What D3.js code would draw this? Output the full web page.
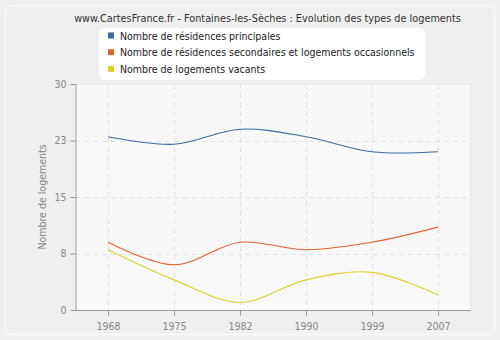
<!DOCTYPE html>
<html><head><meta charset="utf-8">
<script src="https://cdn.jsdelivr.net/npm/d3@7"></script>
<style>body{margin:0;background:#efefef}svg{display:block}</style>
</head><body>
<script>
const years = ["1968","1975","1982","1990","1999","2007"];
const principales = [23, 22, 24, 23, 21, 21];
const secondaires = [9, 6, 9, 8, 9, 11];
const vacants = [8, 4, 1, 4, 5, 2];
const yTickValues = [0, 7.5, 15, 22.5, 30];
const yTickLabels = ["0", "8", "15", "23", "30"];
const seriesNames = ["Nombre de résidences principales","Nombre de résidences secondaires et logements occasionnels","Nombre de logements vacants"];
const seriesColors = ["#3d6aa0","#e0622e","#e0d02a"];
const title = "www.CartesFrance.fr - Fontaines-les-Sèches : Evolution des types de logements";
const yTitle = "Nombre de logements";

const W=500,H=340;
const font="'DejaVu Sans Condensed', 'DejaVu Sans', Verdana, sans-serif";
const svg=d3.select("body").append("svg").attr("width",W).attr("height",H);
const defs=svg.append("defs");
const pat=defs.append("pattern").attr("id","hatch").attr("patternUnits","userSpaceOnUse").attr("width",4).attr("height",4);
pat.append("rect").attr("width",4).attr("height",4).attr("fill","#fbfbfb");
pat.append("path").attr("d","M-1,1 l2,-2 M0,4 l4,-4 M3,5 l2,-2").attr("stroke","#ececec").attr("stroke-width",0.8);

svg.append("rect").attr("width",W).attr("height",H).attr("fill","#efefef");
svg.append("rect").attr("x",5.5).attr("y",5.5).attr("width",W-11).attr("height",H-11).attr("rx",6)
  .attr("fill","#efefef").attr("stroke","#fafafa").attr("stroke-width",1.5);

const L=75,R=471,T=84,B=310;
const x=d3.scalePoint().domain(years).range([L,R]).padding(0.5);
const y=d3.scaleLinear().domain([0,30]).range([B,T]);

svg.append("rect").attr("x",L).attr("y",T).attr("width",R-L).attr("height",B-T).attr("fill","url(#hatch)");
[[0,7.5],[15,22.5]].forEach(b=>{
  svg.append("rect").attr("x",L).attr("y",y(b[1])).attr("width",R-L).attr("height",y(b[0])-y(b[1]))
    .attr("fill","#fafafa").attr("opacity",0.6);
});
svg.append("line").attr("x1",L).attr("x2",R).attr("y1",T+0.5).attr("y2",T+0.5).attr("stroke","#e8e8e8");
svg.append("line").attr("x1",R-0.5).attr("x2",R-0.5).attr("y1",T).attr("y2",B).attr("stroke","#e8e8e8");

const g=svg.append("g");
yTickValues.slice(1,4).forEach(v=>{
  g.append("line").attr("x1",L).attr("x2",R).attr("y1",Math.round(y(v))+0.5).attr("y2",Math.round(y(v))+0.5)
   .attr("stroke","#e2e2e2").attr("stroke-dasharray","5,4");
});
years.forEach(v=>{
  g.append("line").attr("x1",Math.round(x(v))+0.5).attr("x2",Math.round(x(v))+0.5).attr("y1",T).attr("y2",B)
   .attr("stroke","#e2e2e2").attr("stroke-dasharray","5,4");
});

const ax=svg.append("g").attr("transform",`translate(0,${B+0.5})`)
  .call(d3.axisBottom(x).tickSize(5).tickSizeOuter(0));
const ay=svg.append("g").attr("transform",`translate(${L+0.5},0)`)
  .call(d3.axisLeft(y).tickValues(yTickValues).tickFormat((d,i)=>yTickLabels[i]).tickSize(5).tickSizeOuter(0));
[ax,ay].forEach(a=>{
  a.select(".domain").attr("stroke","#999");
  a.selectAll(".tick line").attr("stroke","#999");
  a.selectAll(".tick text").attr("fill","#888").attr("font-family",font).attr("font-size",10.5);
});
ax.select(".domain").attr("d",`M${L},0H${R}`);
ax.selectAll(".tick text").attr("dy","1.1em");
ay.selectAll(".tick text").attr("x",-9);

svg.append("text").attr("transform",`translate(46,${(T+B)/2}) rotate(-90)`).attr("text-anchor","middle")
  .attr("font-family",font).attr("font-size",10.5).attr("fill","#888").text(yTitle);

const line=d3.line().x((d,i)=>x(years[i])).y(d=>y(d)).curve(d3.curveCatmullRom.alpha(0.5));
[principales,secondaires,vacants].forEach((s,i)=>{
  svg.append("path").attr("d",line(s)).attr("fill","none").attr("stroke",seriesColors[i]).attr("stroke-width",1.1);
});

svg.append("text").attr("x",267.5).attr("y",22).attr("text-anchor","middle").attr("font-family",font)
  .attr("font-size",10.8).attr("fill","#333").text(title);

svg.append("rect").attr("x",99).attr("y",28).attr("width",326).attr("height",52).attr("rx",6).attr("fill","#fff");
seriesNames.forEach((n,i)=>{
  const cy=35.5+i*16.7;
  svg.append("rect").attr("x",108).attr("y",cy-3).attr("width",6).attr("height",6).attr("fill",seriesColors[i]);
  svg.append("text").attr("x",120).attr("y",cy+4).attr("font-family",font).attr("font-size",10.5).attr("fill","#222").text(n);
});
</script>
</body></html>
